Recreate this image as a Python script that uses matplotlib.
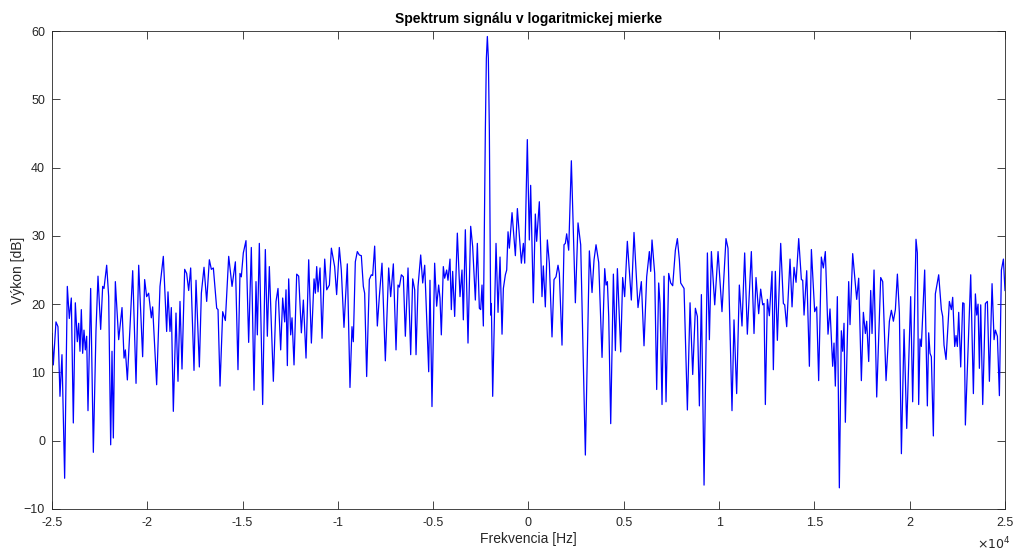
import matplotlib
matplotlib.use("Agg")
import matplotlib.pyplot as plt

# Frequencies (Hz) and power (dB)
freq_hz = [
    -25000, -24930, -24790, -24685, -24580, -24475, -24335, -24195, -24090, -23985,
    -23880, -23775, -23670, -23600, -23530, -23460, -23390, -23320, -23250, -23180,
    -23110, -22970, -22830, -22690, -22585, -22445, -22340, -22270, -22130, -22025,
    -21920, -21850, -21780, -21675, -21500, -21325, -21220, -21150, -21045, -20905,
    -20765, -20590, -20450,
    -20243, -20138, -20033, -19928, -19788, -19718, -19508, -19333, -19158, -18983,
    -18913, -18808, -18738, -18633, -18493, -18388, -18283, -18178, -18038, -17933,
    -17828, -17723, -17548, -17443, -17268, -17163, -17023, -16883, -16743, -16638,
    -16533, -16358, -16288, -16183, -16043, -15903, -15728, -15553, -15378,
    -15241, -15136, -15066, -14961, -14821, -14681, -14541, -14401, -14296, -14226,
    -14121, -13946, -13806, -13701, -13596, -13386, -13246, -13141, -13001, -12896,
    -12791, -12721, -12651, -12581, -12476, -12406, -12301, -12161, -12056, -11916,
    -11811, -11671, -11531, -11391, -11251, -11181, -11111, -11041, -10936, -10831,
    -10691, -10586, -10446, -10341,
    -10170, -10065, -9925, -9820, -9680, -9505, -9365, -9260, -9190, -9085,
    -8980, -8875, -8770, -8665, -8595, -8490, -8350, -8245, -8175, -8070,
    -7930, -7825, -7685, -7510, -7335, -7230, -7090, -6950, -6845, -6775,
    -6670, -6565, -6460, -6320, -6180, -6075, -5970, -5900, -5795, -5655,
    -5550, -5445, -5235,
    -5168, -5063, -4923, -4818, -4713, -4643, -4573, -4468, -4398, -4293,
    -4223, -4118, -4048, -3978, -3873, -3733, -3593, -3488, -3418, -3313,
    -3173, -3033, -2928, -2788, -2683, -2578, -2508, -2438, -2368, -2263,
    -2210, -2158, -2105, -2053, -1983, -1948, -1878, -1703, -1598, -1493,
    -1388, -1318, -1213, -1143, -1073, -1003, -863, -688, -583, -373,
    -268, -198,
    -61, 44, 114, 219, 254, 359, 429, 569, 709, 779,
    884, 989, 1094, 1234, 1339, 1444, 1549, 1619, 1759, 1864,
    1934, 2004, 2109, 2249, 2459, 2599, 2739, 2984, 3194, 3334,
    3439, 3544, 3684, 3859, 3999, 4069, 4139, 4209, 4314, 4454,
    4559, 4664, 4839,
    4941, 5046, 5186, 5396, 5536, 5746, 5921, 6061, 6201, 6341,
    6411, 6481, 6621, 6726, 6831, 6901, 7006, 7111, 7216, 7356,
    7461, 7566, 7706, 7811, 7916, 7986, 8161, 8336, 8476, 8616,
    8756, 8861, 8966, 9071, 9211, 9386, 9491, 9596, 9771, 9946,
    10152, 10362, 10467, 10677, 10782, 10922, 11062, 11202, 11342, 11482,
    11692, 11832, 11937, 12077, 12182, 12287, 12357, 12427, 12532, 12637,
    12777, 12847, 12952, 13057, 13232, 13372, 13442, 13547, 13722, 13827,
    13932, 14037, 14177, 14317, 14387, 14457, 14597, 14737, 14842,
    15014, 15119, 15224, 15364, 15469, 15574, 15714, 15819, 15959, 16029,
    16099, 16204, 16309, 16414, 16484, 16554, 16624, 16799, 16869, 17009,
    17219, 17324, 17464, 17569, 17674, 17744, 17849, 17954, 18024, 18129,
    18269, 18479, 18584, 18759, 18934, 19039, 19144, 19249, 19354, 19459,
    19564, 19704, 19844,
    20051, 20156, 20331, 20401, 20471, 20541, 20611, 20786, 20926, 20996,
    21066, 21136, 21241, 21346, 21521, 21661, 21731, 21801, 21906, 22081,
    22186, 22256, 22361, 22431, 22501, 22571, 22676, 22781, 22851, 22921,
    23061, 23201, 23341, 23446, 23516, 23586, 23656, 23726, 23831, 23971,
    24076, 24181, 24321, 24426, 24496, 24601, 24706, 24811, 24916, 25000,
]

power_db = [
    15.7, 11.1, 17.4, 16.7, 6.5, 12.6, -5.5, 22.6, 17.9, 20.9,
    2.6, 20.2, 14.5, 17.2, 13.1, 19.2, 12.8, 16.2, 13.3, 15.3,
    4.4, 22.3, -1.7, 16.2, 24.1, 16.3, 22.6, 22.3, 25.7, 21.1,
    -0.6, 13.1, 0.4, 23.3, 14.8, 19.5, 12.1, 13.3, 8.9, 16.7,
    24.9, 8.4, 25.7,
    12.3, 23.6, 21.1, 21.6, 18.0, 19.6, 8.2, 22.6, 27.0, 16.0,
    21.8, 16.0, 19.5, 4.3, 18.7, 8.7, 20.4, 10.5, 25.1, 24.5,
    22.0, 25.3, 10.3, 23.5, 10.8, 21.6, 25.4, 20.4, 26.5, 25.1,
    25.3, 19.4, 19.2, 8.0, 18.9, 17.6, 27.0, 22.6, 26.2,
    10.4, 24.5, 24.0, 27.5, 29.3, 14.4, 28.3, 7.4, 23.3, 15.5,
    28.9, 5.3, 28.0, 15.3, 25.5, 8.7, 20.4, 22.3, 13.3, 20.9,
    17.4, 22.1, 11.0, 23.7, 15.5, 18.0, 11.1, 24.4, 24.1, 15.8,
    20.6, 12.1, 26.5, 14.3, 23.7, 21.6, 25.5, 21.8, 25.3, 15.0,
    26.6, 22.1, 22.8, 28.2,
    25.5, 21.4, 28.3, 25.0, 16.6, 25.9, 7.8, 16.7, 14.5, 26.2,
    27.7, 27.2, 27.1, 22.6, 21.6, 9.4, 23.6, 24.3, 24.2, 28.5,
    16.8, 21.1, 26.0, 11.7, 25.3, 21.1, 25.9, 13.3, 22.8, 22.5,
    24.3, 24.0, 15.3, 25.3, 12.6, 23.7, 22.1, 12.6, 22.6, 27.2,
    23.1, 25.7, 10.1,
    23.5, 5.0, 26.0, 19.7, 22.8, 20.9, 15.5, 25.5, 23.8, 25.0,
    23.5, 26.6, 19.2, 24.8, 18.2, 30.4, 21.1, 25.0, 17.7, 30.9,
    14.3, 31.4, 28.4, 20.6, 28.9, 19.4, 19.2, 22.8, 16.8, 45.5,
    56.0, 59.2, 56.0, 45.5, 18.4, 20.1, 6.5, 28.9, 18.8, 26.9,
    15.6, 22.3, 24.3, 25.0, 30.6, 28.2, 33.4, 27.1, 34.0, 26.0,
    28.9, 26.0,
    44.1, 29.4, 37.4, 25.0, 20.2, 33.2, 29.2, 35.0, 21.1, 25.6,
    19.6, 29.4, 26.0, 15.2, 23.6, 24.0, 25.7, 24.5, 14.0, 28.7,
    28.9, 30.3, 27.9, 41.0, 20.2, 31.9, 28.7, -2.1, 27.8, 21.7,
    26.5, 28.7, 26.1, 12.2, 25.2, 22.8, 23.3, 18.2, 2.5, 24.4,
    13.2, 25.2, 13.0,
    23.9, 21.1, 29.2, 20.6, 30.5, 19.5, 23.3, 13.9, 24.0, 27.7,
    24.8, 29.4, 24.5, 7.5, 23.1, 20.1, 5.3, 24.1, 5.7, 24.5,
    23.1, 22.7, 27.9, 29.6, 26.5, 23.1, 22.3, 4.5, 20.2, 9.7,
    19.4, 18.2, 5.1, 21.4, -6.5, 27.5, 14.8, 27.7, 19.9, 27.7,
    18.9, 29.6, 28.2, 4.4, 17.7, 6.9, 22.8, 16.8, 27.5, 15.6,
    27.7, 15.7, 23.9, 18.6, 22.2, 19.9, 20.1, 5.3, 20.7, 18.3,
    24.8, 10.4, 24.8, 14.7, 28.9, 20.1, 19.9, 16.7, 26.6, 19.6,
    25.4, 23.2, 29.6, 23.6, 23.5, 18.4, 24.9, 10.9, 28.0,
    18.9, 19.6, 8.8, 26.9, 25.3, 27.7, 15.6, 19.3, 10.9, 14.3,
    8.0, 21.1, -6.9, 16.1, 13.1, 17.2, 2.7, 23.3, 17.0, 27.4,
    20.7, 23.8, 8.8, 18.8, 15.7, 17.5, 11.6, 22.0, 15.7, 25.0,
    6.4, 23.9, 23.3, 8.8, 17.5, 19.1, 17.5, 19.2, 24.4, 18.7,
    -1.9, 16.3, 1.8,
    21.1, 5.7, 29.5, 27.5, 5.3, 14.9, 13.8, 25.0, 5.1, 15.8,
    12.8, 12.3, 0.7, 21.5, 24.3, 19.2, 18.2, 14.0, 11.9, 20.4,
    19.2, 21.0, 13.8, 15.4, 13.8, 18.8, 10.8, 20.2, 20.1, 2.3,
    13.1, 24.3, 6.9, 21.5, 18.4, 20.0, 10.6, 19.9, 5.3, 20.1,
    20.4, 8.7, 23.0, 14.8, 16.2, 15.3, 6.6, 25.0, 26.6, 22.0,
]

x_ticks = [-25000, -20000, -15000, -10000, -5000, 0, 5000, 10000, 15000, 20000, 25000]
x_tick_labels = ["-2.5", "-2", "-1.5", "-1", "-0.5", "0", "0.5", "1", "1.5", "2", "2.5"]
y_ticks = [-10, 0, 10, 20, 30, 40, 50, 60]

plt.rcParams['font.family'] = ['Liberation Sans', 'DejaVu Sans']

fig = plt.figure(figsize=(10.17, 5.52), dpi=100)
ax = fig.add_axes([0.0511, 0.0779, 0.9371, 0.8659])

ax.plot(freq_hz, power_db, color=(0, 0, 1), linewidth=0.9)

ax.set_xlim(-25000, 25000)
ax.set_ylim(-10, 60)
ax.set_xticks(x_ticks)
ax.set_xticklabels(x_tick_labels)
ax.set_yticks(y_ticks)

axis_col = '#262626'
for s in ax.spines.values():
    s.set_color(axis_col)
    s.set_linewidth(0.6)
ax.tick_params(direction='in', length=5.5, width=0.6, colors=axis_col,
               labelsize=9, top=True, right=True, labelcolor='#262626')
ax.tick_params(axis='x', pad=6)
ax.tick_params(axis='y', pad=5)

ax.set_title("Spektrum signálu v logaritmickej mierke", fontsize=10,
             fontweight='bold', color='black', pad=6)
ax.set_xlabel("Frekvencia [Hz]", fontsize=10, color='#262626', labelpad=2)
ax.set_ylabel("Výkon [dB]", fontsize=10, color='#262626', labelpad=-1)

ax.text(1.006, -0.056, r"$\times10^{4}$", transform=ax.transAxes, ha='right',
        va='top', fontsize=9, color='#262626')

fig.savefig("out.png", dpi=100)
